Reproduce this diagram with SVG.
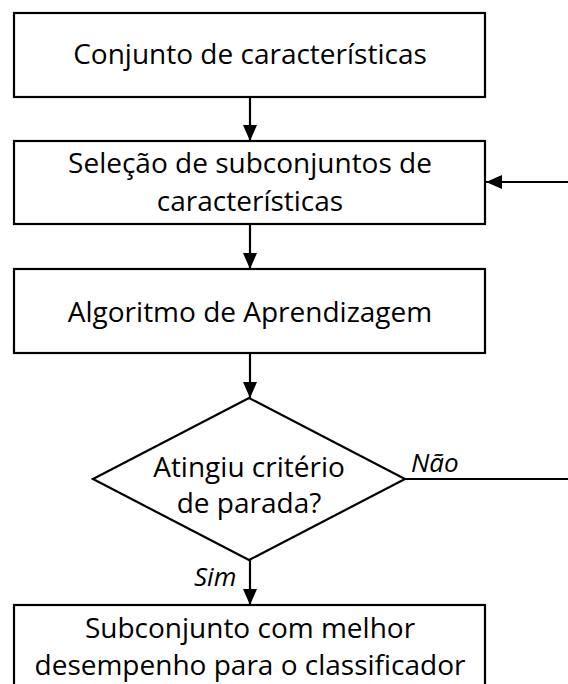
<svg xmlns="http://www.w3.org/2000/svg" width="568" height="684" viewBox="0 0 568 684">
<defs>
<style>
.box{fill:#fff;stroke:#000;stroke-width:2.2}
.lbl{font-family:"Open Sans","Liberation Sans",sans-serif;font-size:28px;fill:#000;text-anchor:middle}
.it{font-family:"Open Sans","Liberation Sans",sans-serif;font-size:26px;font-style:italic;fill:#000}
.ln{fill:none;stroke:#000;stroke-width:2.2}
</style>
<marker id="ah" viewBox="0 0 16 14" refX="16" refY="7" markerWidth="16" markerHeight="14" markerUnits="userSpaceOnUse" orient="auto">
<path d="M0,0 L16,7 L0,14 Z" fill="#000"/>
</marker>
</defs>
<rect width="568" height="684" fill="#fff"/>
<g id="connectors">
<line class="ln" x1="250" y1="97" x2="250" y2="141" marker-end="url(#ah)"/>
<line class="ln" x1="250" y1="224" x2="250" y2="269" marker-end="url(#ah)"/>
<line class="ln" x1="250" y1="353" x2="250" y2="398" marker-end="url(#ah)"/>
<line class="ln" x1="250" y1="560" x2="250" y2="605" marker-end="url(#ah)"/>
<line class="ln" x1="405" y1="479" x2="568" y2="479"/>
<line class="ln" x1="568" y1="182" x2="486" y2="182" marker-end="url(#ah)"/>
<text class="it" x="411" y="472">Não</text>
<text class="it" x="194" y="586">Sim</text>
</g>
<g id="n1">
<rect class="box" x="14" y="13" width="471" height="84"/>
<text class="lbl" x="250" y="64">Conjunto de características</text>
</g>
<g id="n2">
<rect class="box" x="14" y="141" width="471" height="83"/>
<text class="lbl" x="250" y="173">Seleção de subconjuntos de</text>
<text class="lbl" x="250" y="211">características</text>
</g>
<g id="n3">
<rect class="box" x="14" y="269" width="471" height="84"/>
<text class="lbl" x="250" y="322">Algoritmo de Aprendizagem</text>
</g>
<g id="n4">
<polygon class="box" points="249,398 405,479 249,560 93,479"/>
<text class="lbl" x="249" y="477">Atingiu critério</text>
<text class="lbl" x="249" y="513">de parada?</text>
</g>
<g id="n5">
<rect class="box" x="14" y="605" width="471" height="90"/>
<text class="lbl" x="250" y="638">Subconjunto com melhor</text>
<text class="lbl" x="250" y="675">desempenho para o classificador</text>
</g>
</svg>
